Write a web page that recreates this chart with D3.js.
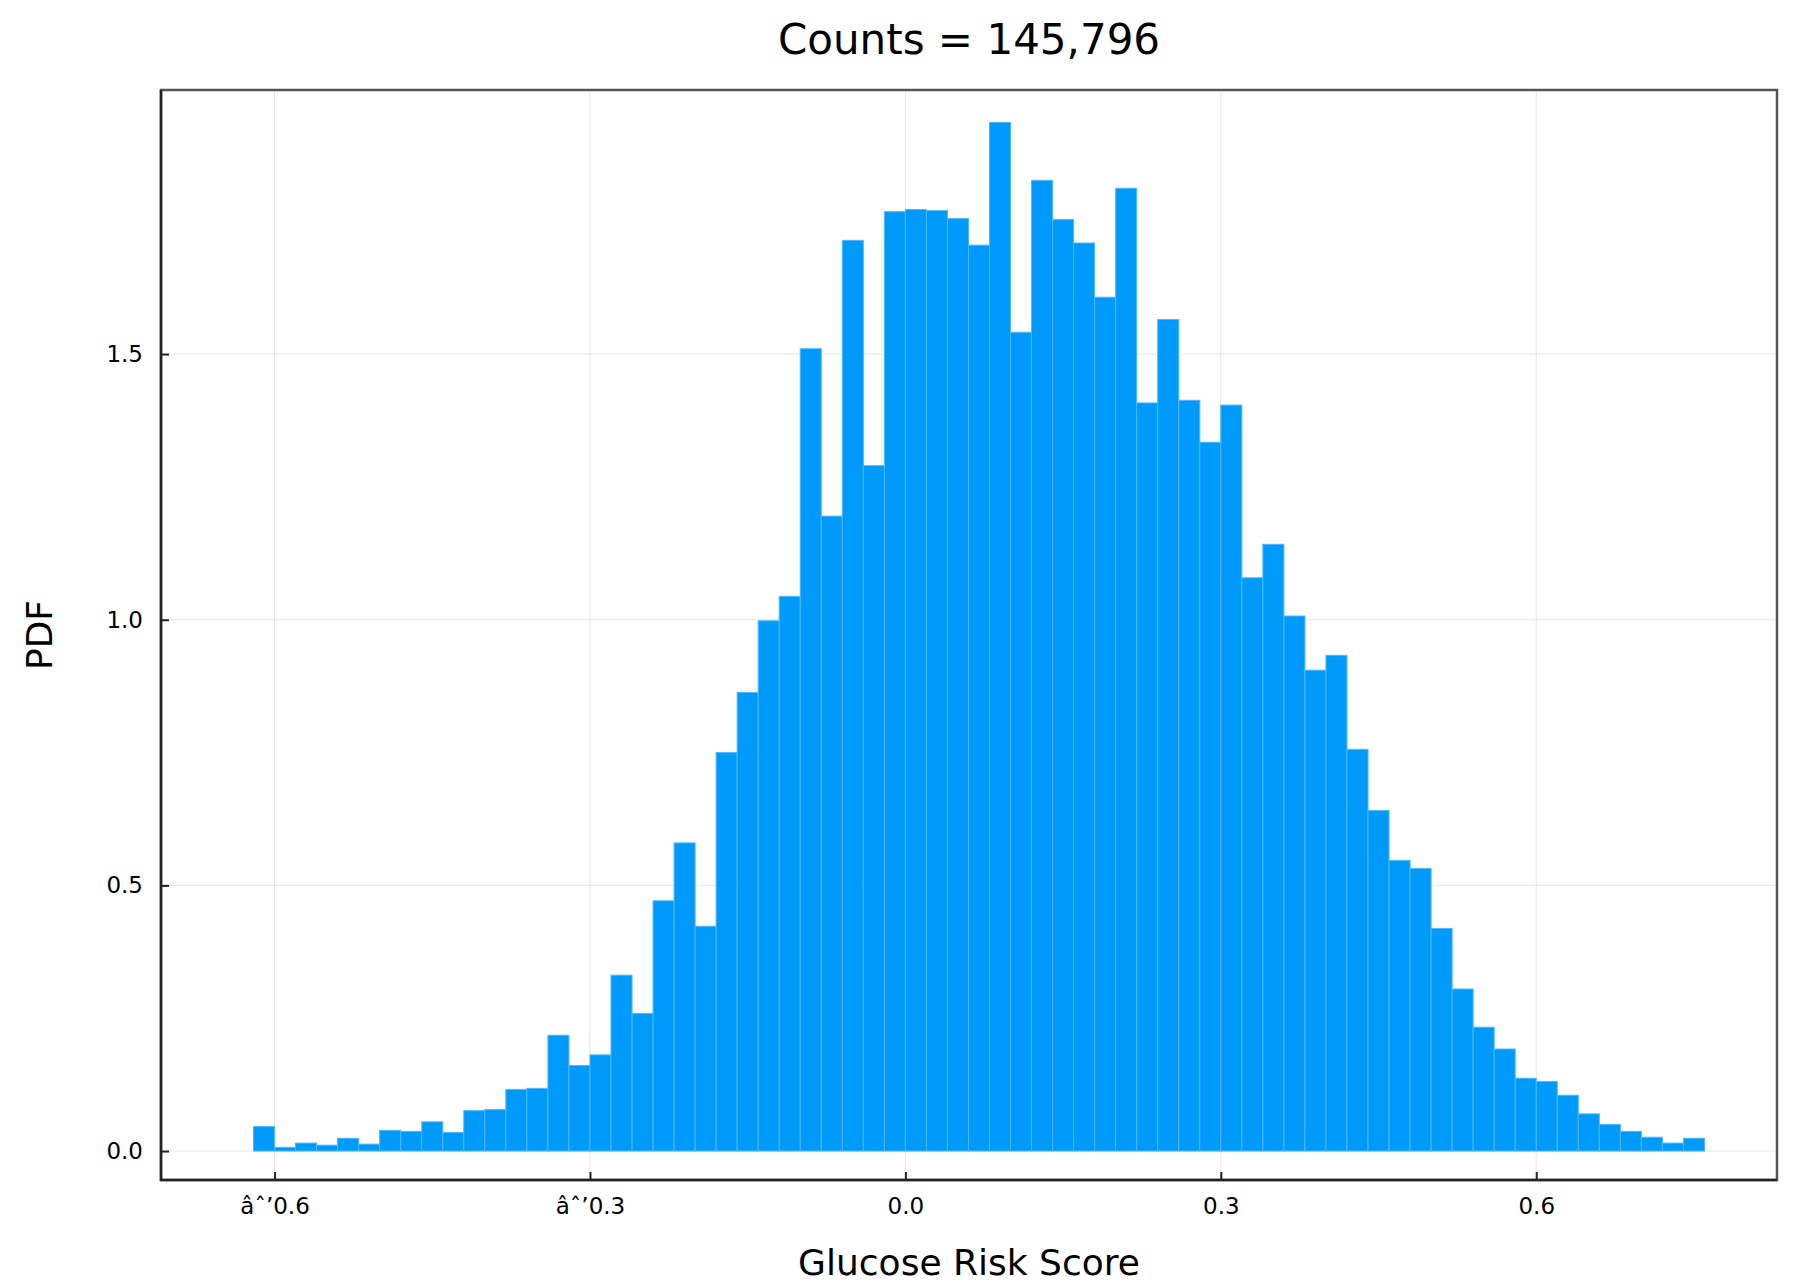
<!DOCTYPE html>
<html>
<head>
<script src="https://d3js.org/d3.v7.min.js"></script>
<style>
  body { margin: 0; background: #fff; }
  text { font-family: "DejaVu Sans", sans-serif; }
</style>
</head>
<body>
<div id="chart"></div>
<script>
// histogram bins: left edge, width 0.02
var binStart = -0.62, binWidth = 0.02;
var pdf = [0.046, 0.007, 0.015, 0.011, 0.024, 0.013, 0.039, 0.037, 0.055, 0.035,
  0.076, 0.078, 0.116, 0.118, 0.218, 0.161, 0.181, 0.331, 0.259, 0.471,
  0.580, 0.423, 0.750, 0.863, 0.998, 1.044, 1.510, 1.195, 1.714, 1.290,
  1.768, 1.772, 1.770, 1.755, 1.705, 1.936, 1.541, 1.827, 1.753, 1.709,
  1.607, 1.812, 1.408, 1.565, 1.413, 1.334, 1.404, 1.079, 1.142, 1.007,
  0.905, 0.933, 0.756, 0.641, 0.547, 0.532, 0.419, 0.305, 0.233, 0.192,
  0.137, 0.131, 0.105, 0.070, 0.050, 0.037, 0.026, 0.015, 0.024];
var xTicks = [-0.6, -0.3, 0.0, 0.3, 0.6];
var yTicks = [0.0, 0.5, 1.0, 1.5];

var width = 1806, height = 1282;
var m = {left: 161, right: 1777, top: 90, bottom: 1180};
var svg = d3.select('#chart').append('svg').attr('width', width).attr('height', height);

var x = d3.scaleLinear().domain([-0.708, 0.829]).range([m.left, m.right]);
var y = d3.scaleLinear().domain([-0.0545, 1.997]).range([m.bottom, m.top]);

// grid
svg.append('g').selectAll('line').data(xTicks).enter().append('line')
  .attr('x1', d => x(d)).attr('x2', d => x(d)).attr('y1', m.top).attr('y2', m.bottom)
  .attr('stroke', '#000').attr('stroke-opacity', 0.1).attr('stroke-width', 1);
svg.append('g').selectAll('line').data(yTicks).enter().append('line')
  .attr('y1', d => y(d)).attr('y2', d => y(d)).attr('x1', m.left).attr('x2', m.right)
  .attr('stroke', '#000').attr('stroke-opacity', 0.1).attr('stroke-width', 1);

// bars
svg.append('g').selectAll('rect').data(pdf).enter().append('rect')
  .attr('x', (d, i) => x(binStart + i * binWidth))
  .attr('width', (d, i) => x(binStart + (i + 1) * binWidth) - x(binStart + i * binWidth))
  .attr('y', d => y(d))
  .attr('height', d => y(0) - y(d))
  .attr('fill', '#009afa')
  .attr('stroke', '#4db8fb').attr('stroke-width', 1);

// frame
svg.append('rect').attr('x', m.left).attr('y', m.top)
  .attr('width', m.right - m.left).attr('height', m.bottom - m.top)
  .attr('fill', 'none').attr('stroke', '#555').attr('stroke-width', 2.5);
svg.append('path')
  .attr('d', `M${m.left},${m.top}V${m.bottom}H${m.right}`)
  .attr('fill', 'none').attr('stroke', '#222').attr('stroke-width', 2.5);

// axes
var xAxis = d3.axisBottom(x).tickValues(xTicks).tickSizeInner(-8).tickSizeOuter(0).tickPadding(18)
  .tickFormat(d => d3.format('.1f')(d).replace('-', '\u2212'));
var gx = svg.append('g').attr('transform', `translate(0,${m.bottom})`).call(xAxis);
var yAxis = d3.axisLeft(y).tickValues(yTicks).tickSizeInner(-8).tickSizeOuter(0).tickPadding(18)
  .tickFormat(d3.format('.1f'));
var gy = svg.append('g').attr('transform', `translate(${m.left},0)`).call(yAxis);
[gx, gy].forEach(g => {
  g.select('.domain').remove();
  g.selectAll('line').attr('stroke', '#222').attr('stroke-width', 2);
  g.selectAll('text').attr('font-size', 23).attr('fill', '#000')
    .style('font-family', '"DejaVu Sans", sans-serif');
});

// labels
svg.append('text').attr('x', (m.left + m.right) / 2).attr('y', 54)
  .attr('text-anchor', 'middle').attr('font-size', 42).text('Counts = 145,796');
svg.append('text').attr('x', (m.left + m.right) / 2).attr('y', 1275)
  .attr('text-anchor', 'middle').attr('font-size', 36).text('Glucose Risk Score');
svg.append('text').attr('transform', `translate(52,${(m.top + m.bottom) / 2}) rotate(-90)`)
  .attr('text-anchor', 'middle').attr('font-size', 36).text('PDF');
</script>
</body>
</html>
